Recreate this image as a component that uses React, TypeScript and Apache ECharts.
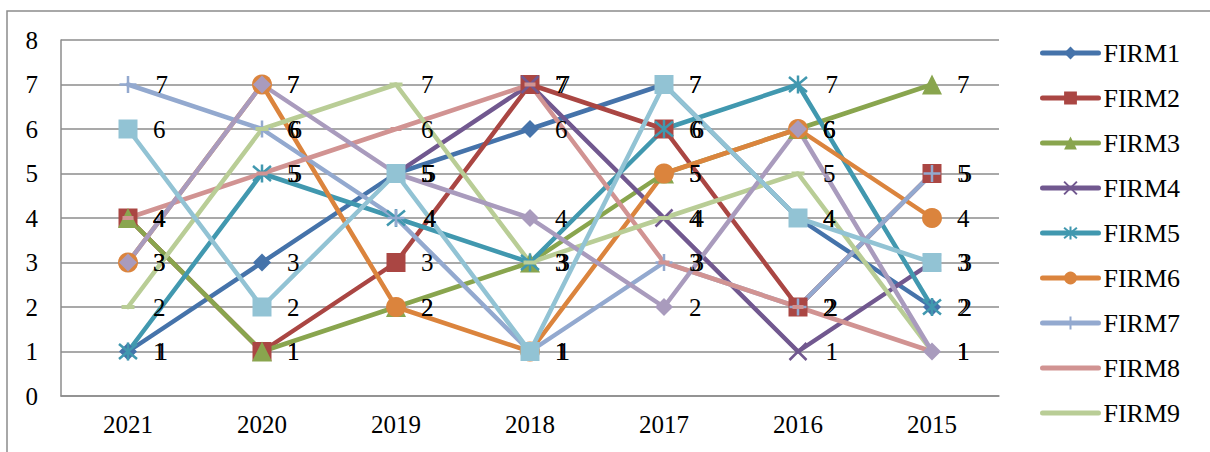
import React, { useEffect, useRef } from "react";
import * as echarts from "echarts";

const years = ["2021", "2020", "2019", "2018", "2017", "2016", "2015"];
const yTicks = [0, 1, 2, 3, 4, 5, 6, 7, 8];

const firm1 = [1, 3, 5, 6, 7, 4, 2];
const firm2 = [4, 1, 3, 7, 6, 2, 5];
const firm3 = [4, 1, 2, 3, 5, 6, 7];
const firm4 = [null, null, 5, 7, 4, 1, 3];
const firm5 = [1, 5, 4, 3, 6, 7, 2];
const firm6 = [3, 7, 2, 1, 5, 6, 4];
const firm7 = [7, 6, 4, 1, 3, 2, 5];
const firm8 = [4, 5, 6, 7, 3, 2, 1];
const firm9 = [2, 6, 7, 3, 4, 5, 1];
const firm10 = [3, 7, 5, 4, 2, 6, 1];
const firm11 = [6, 2, 5, 1, 7, 4, 3];

const seriesNames = ["FIRM1", "FIRM2", "FIRM3", "FIRM4", "FIRM5", "FIRM6", "FIRM7", "FIRM8", "FIRM9", "FIRM10", "FIRM11"];
const seriesValues = [firm1, firm2, firm3, firm4, firm5, firm6, firm7, firm8, firm9, firm10, firm11];
const legendNames = ["FIRM1", "FIRM2", "FIRM3", "FIRM4", "FIRM5", "FIRM6", "FIRM7", "FIRM8", "FIRM9"];
const legendNoMarker = ["FIRM8", "FIRM9"];

const colors = ["#4573AA", "#AA4643", "#89A54E", "#71588F", "#4198AF", "#DB843D", "#93A9CF", "#D19392", "#B9CD96", "#A99BBD", "#92C3D4"];

const X_PATH = "path://M0,0L10,10M10,0L0,10";
const STAR_PATH = "path://M0,0L10,10M10,0L0,10M5,-1L5,11";
const PLUS_PATH = "path://M5,0L5,10M0,5L10,5";

const symbols: any[] = ["diamond", "rect", "triangle", X_PATH, STAR_PATH, "circle", PLUS_PATH, "rect", "rect", "diamond", "rect"];
const symbolSizes: any[] = [18, 19, 20, 17, 18, 20, 17, [11, 4], [13, 4], 18, 19];
const stroked = [false, false, false, true, true, false, true, false, false, false, false];

const FONT = "Liberation Serif, Times New Roman, serif";

export default function App() {
  const ref = useRef<HTMLDivElement>(null);
  useEffect(() => {
    if (!ref.current) return;
    const chart = echarts.init(ref.current, null, { renderer: "svg" });
    const series = seriesNames.map((name, i) => {
      const sz = symbolSizes[i];
      const w = Array.isArray(sz) ? sz[0] : sz;
      return {
        name,
        type: "line",
        data: seriesValues[i],
        symbol: symbols[i],
        symbolSize: sz,
        showSymbol: true,
        connectNulls: false,
        lineStyle: { color: colors[i], width: 4.5, cap: "round", join: "round" },
        itemStyle: {
          color: stroked[i] ? "none" : colors[i],
          borderColor: colors[i],
          borderWidth: stroked[i] ? 2.5 : 0,
        },
        label: {
          show: true,
          position: "right",
          distance: 25 - w / 2,
          color: "#000",
          fontSize: 25,
          fontFamily: FONT,
        },
        emphasis: { disabled: true },
      };
    });
    chart.setOption({
      animation: false,
      backgroundColor: "#fff",
      grid: { left: 61, right: 211, top: 40, bottom: 56 },
      graphic: [
        {
          type: "rect",
          shape: { x: 7, y: 11, width: 1400, height: 600 },
          style: { fill: "none", stroke: "#8c8c8c", lineWidth: 1.5 },
          silent: true,
        },
      ],
      legend: {
        orient: "vertical",
        left: 1035,
        top: 35,
        itemWidth: 56,
        itemHeight: 16,
        itemGap: 19,
        lineStyle: { width: 5, cap: "round" },
        data: legendNames.map((n) =>
          legendNoMarker.includes(n) ? { name: n, itemStyle: { opacity: 0 } } : { name: n }
        ),
        textStyle: { color: "#000", fontSize: 26, fontFamily: FONT, lineHeight: 26 },
      },
      xAxis: {
        type: "category",
        data: years,
        boundaryGap: true,
        axisTick: { show: false },
        axisLine: { show: true, lineStyle: { color: "#8c8c8c", width: 1.5 } },
        axisLabel: { color: "#000", fontSize: 25, fontFamily: FONT, margin: 16 },
        splitLine: { show: false },
      },
      yAxis: {
        type: "value",
        min: yTicks[0],
        max: yTicks[yTicks.length - 1],
        interval: 1,
        axisLine: { show: true, lineStyle: { color: "#8c8c8c", width: 1.5 } },
        axisTick: { show: false },
        axisLabel: { color: "#000", fontSize: 25, fontFamily: FONT, margin: 23 },
        splitLine: { show: true, lineStyle: { color: "#8c8c8c", width: 1.5 } },
      },
      series,
    });
    return () => chart.dispose();
  }, []);
  return (
    <div
      ref={ref}
      style={{ position: "fixed", left: 0, top: 0, width: 1210, height: 452, background: "#fff" }}
    />
  );
}
